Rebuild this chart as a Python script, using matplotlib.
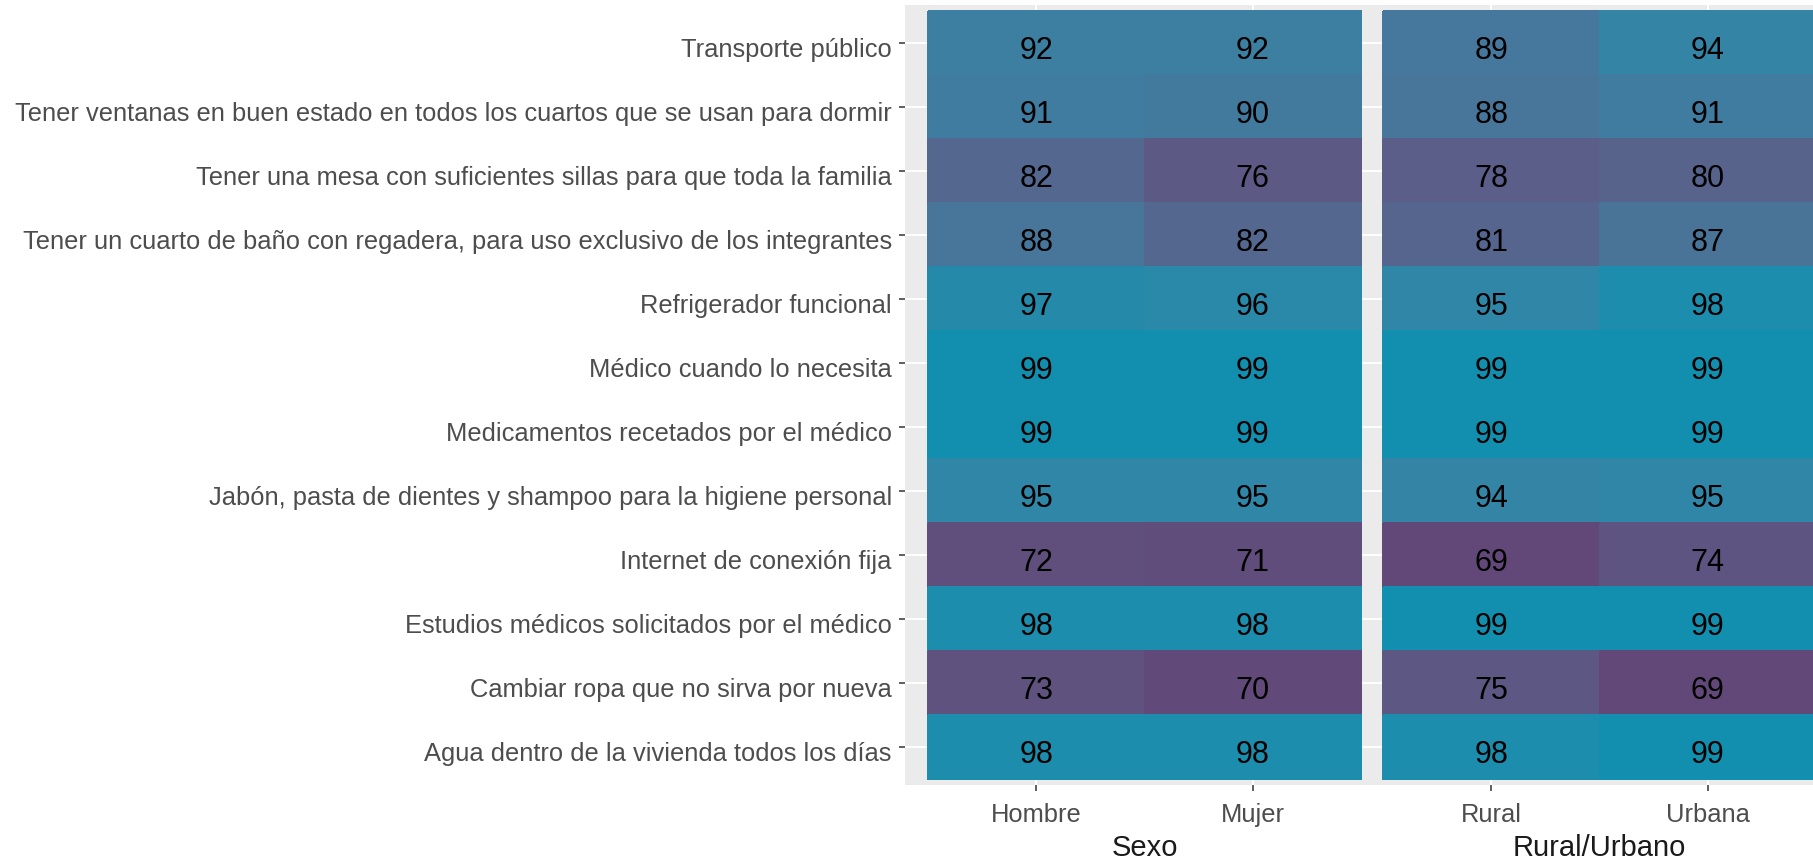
import numpy as np
import matplotlib
matplotlib.use("Agg")
import matplotlib.pyplot as plt
from matplotlib.colors import ListedColormap, Normalize, to_rgb
from matplotlib.transforms import blended_transform_factory, ScaledTranslation

# ---------------- data ----------------
items = [
    "Transporte público",
    "Tener ventanas en buen estado en todos los cuartos que se usan para dormir",
    "Tener una mesa con suficientes sillas para que toda la familia",
    "Tener un cuarto de baño con regadera, para uso exclusivo de los integrantes",
    "Refrigerador funcional",
    "Médico cuando lo necesita",
    "Medicamentos recetados por el médico",
    "Jabón, pasta de dientes y shampoo para la higiene personal",
    "Internet de conexión fija",
    "Estudios médicos solicitados por el médico",
    "Cambiar ropa que no sirva por nueva",
    "Agua dentro de la vivienda todos los días",
]
sexo_cats = ["Hombre", "Mujer"]
area_cats = ["Rural", "Urbana"]
hombre = [92, 91, 82, 88, 97, 99, 99, 95, 72, 98, 73, 98]
mujer = [92, 90, 76, 82, 96, 99, 99, 95, 71, 98, 70, 98]
rural = [89, 88, 78, 81, 95, 99, 99, 94, 69, 99, 75, 98]
urbana = [94, 91, 80, 87, 98, 99, 99, 95, 74, 99, 69, 99]
facet_titles = ["Sexo", "Rural/Urbano"]

# ---------------- colour scale (Lab interpolation, like ggplot) ----------------
LOW, HIGH = "#624878", "#128FAE"
M = np.array([[0.4124, 0.3576, 0.1805],
              [0.2126, 0.7152, 0.0722],
              [0.0193, 0.1192, 0.9505]])
WHITE = np.array([0.95047, 1.0, 1.08883])

def to_lab(c):
    c = np.asarray(to_rgb(c))
    lin = np.where(c <= 0.04045, c / 12.92, ((c + 0.055) / 1.055) ** 2.4)
    xyz = M @ lin / WHITE
    d = 6 / 29
    f = np.where(xyz > d ** 3, np.cbrt(xyz), xyz / (3 * d * d) + 4 / 29)
    return np.array([116 * f[1] - 16, 500 * (f[0] - f[1]), 200 * (f[1] - f[2])])

def from_lab(lab):
    L, a, b = lab
    fy = (L + 16) / 116
    fx = fy + a / 500
    fz = fy - b / 200
    d = 6 / 29
    f = np.array([fx, fy, fz])
    xyz = np.where(f > d, f ** 3, 3 * d * d * (f - 4 / 29)) * WHITE
    lin = np.linalg.solve(M, xyz)
    lin = np.clip(lin, 0, 1)
    c = np.where(lin <= 0.0031308, 12.92 * lin, 1.055 * lin ** (1 / 2.4) - 0.055)
    return np.clip(c, 0, 1)

la, lb = to_lab(LOW), to_lab(HIGH)
cmap = ListedColormap([from_lab(la + (lb - la) * t) for t in np.linspace(0, 1, 256)])
allv = np.array(hombre + mujer + rural + urbana)
norm = Normalize(vmin=allv.min(), vmax=allv.max())

# ---------------- figure ----------------
plt.rcParams["font.family"] = ["Liberation Sans", "DejaVu Sans"]
W, H = 1813, 861
fig = plt.figure(figsize=(W / 100, H / 100), dpi=100)
fig.patch.set_facecolor("white")

unit = 216.5
bottom = (H - 785) / H
height = 780 / H
ax1 = fig.add_axes([905 / W, bottom, 467 / W, height])
ax2 = fig.add_axes([1372 / W, bottom, 441 / W, height])
ax1.set_xlim(-0.5 - 23 / unit, 1.5 + 11 / unit)
ax2.set_xlim(-0.5 - 11 / unit, -0.5 + (W - 1383) / unit)

n = len(items)
panels = [(ax1, sexo_cats, [hombre, mujer], facet_titles[0]),
          (ax2, area_cats, [rural, urbana], facet_titles[1])]
for ax, cats, cols, title in panels:
    ax.set_facecolor("#EBEBEB")
    ax.set_ylim(n - 0.5 + 0.1, -0.5 - 0.1)
    for s in ax.spines.values():
        s.set_visible(False)
    ax.set_axisbelow(True)
    ax.set_yticks(range(n))
    ax.set_xticks(range(len(cats)))
    ax.grid(True, color="white", linewidth=1.5)
    data = np.array(cols).T
    xe = np.arange(len(cats) + 1) - 0.5
    ye = np.arange(n + 1) - 0.5
    ax.pcolormesh(xe, ye, data, cmap=cmap, norm=norm, zorder=2,
                  edgecolors="face", linewidth=0.3)
    for j in range(len(cats)):
        for i in range(n):
            ax.text(j, i + 0.25, f"{data[i, j]:.0f}", ha="center", va="baseline",
                    fontsize=22, color="black", zorder=3)
    ax.set_xticklabels(cats, fontsize=18.4, color="#4D4D4D")
    ax.tick_params(axis="x", length=4, width=1.1, color="#333333", pad=9)
    tr = blended_transform_factory(ax.transData, fig.transFigure)
    ax.text(0.5, (H - 848) / H, title, transform=tr, ha="center", va="center",
            fontsize=21, color="#1A1A1A")

ax1.set_yticklabels(items, fontsize=18.4, color="#4D4D4D")
ax1.tick_params(axis="y", length=4, width=1.1, color="#333333", pad=5.5)
shift = ScaledTranslation(0, -0.045, fig.dpi_scale_trans)
for lab in ax1.get_yticklabels():
    lab.set_transform(lab.get_transform() + shift)
ax2.tick_params(axis="y", left=False, labelleft=False)

fig.savefig("out.png", dpi=100, facecolor="white")
